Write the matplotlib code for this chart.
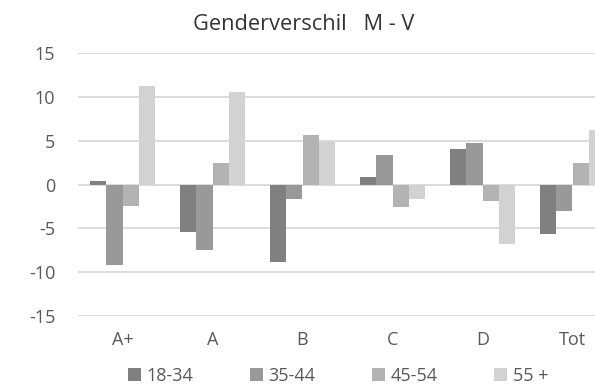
import numpy as np
import matplotlib.pyplot as plt

# data
categories = ["A+", "A", "B", "C", "D", "Tot"]
groups = ["18-34", "35-44", "45-54", "55 +"]
v_18_34 = [0.4, -5.4, -8.8, 0.9, 4.0, -5.7]
v_35_44 = [-9.2, -7.5, -1.7, 3.4, 4.7, -3.0]
v_45_54 = [-2.4, 2.4, 5.6, -2.6, -1.9, 2.5]
v_55 = [11.2, 10.5, 4.8, -1.7, -6.8, 6.2]
series = [v_18_34, v_35_44, v_45_54, v_55]
colors = ["#808080", "#999999", "#b3b3b3", "#d2d2d2"]

plt.rcParams["font.family"] = ["Open Sans", "DejaVu Sans"]
plt.rcParams["axes.unicode_minus"] = False

fig = plt.figure(figsize=(5.95, 3.87), dpi=100)
# plot area runs past the right edge, like the cropped original
ax = fig.add_axes([77.5 / 595, 1 - 316 / 387, 540 / 595, 263 / 387])

x = np.arange(len(categories))
w = 0.18
for i, (vals, lbl, c) in enumerate(zip(series, groups, colors)):
    ax.bar(x + (i - 1.5) * w, vals, w, color=c, label=lbl, linewidth=0, zorder=3)

ax.set_xlim(-0.5, 5.5)
ax.set_ylim(-15, 15)
ax.set_yticks(np.arange(-15, 16, 5))
ax.set_xticks(x)
ax.set_xticklabels(categories)
ax.yaxis.grid(True, color="#d9d9d9", linewidth=1.3, zorder=0)
for s in ax.spines.values():
    s.set_visible(False)
ax.tick_params(axis="both", length=0, labelsize=13, colors="#595959")
ax.tick_params(axis="x", pad=11)
ax.tick_params(axis="y", pad=16)

fig.text(303.5 / 595, 1 - 30 / 387, "Genderverschil   M - V", ha="center", va="baseline",
         fontsize=15.7, color="#333333")

fig.legend(loc="center", bbox_to_anchor=(338 / 595, 1 - 376 / 387), ncol=4,
           frameon=False, fontsize=13, handlelength=0.75, handleheight=0.75,
           handletextpad=0.3, columnspacing=3.1, labelcolor="#595959",
           borderpad=0.1)

fig.savefig("out.png", dpi=100)
